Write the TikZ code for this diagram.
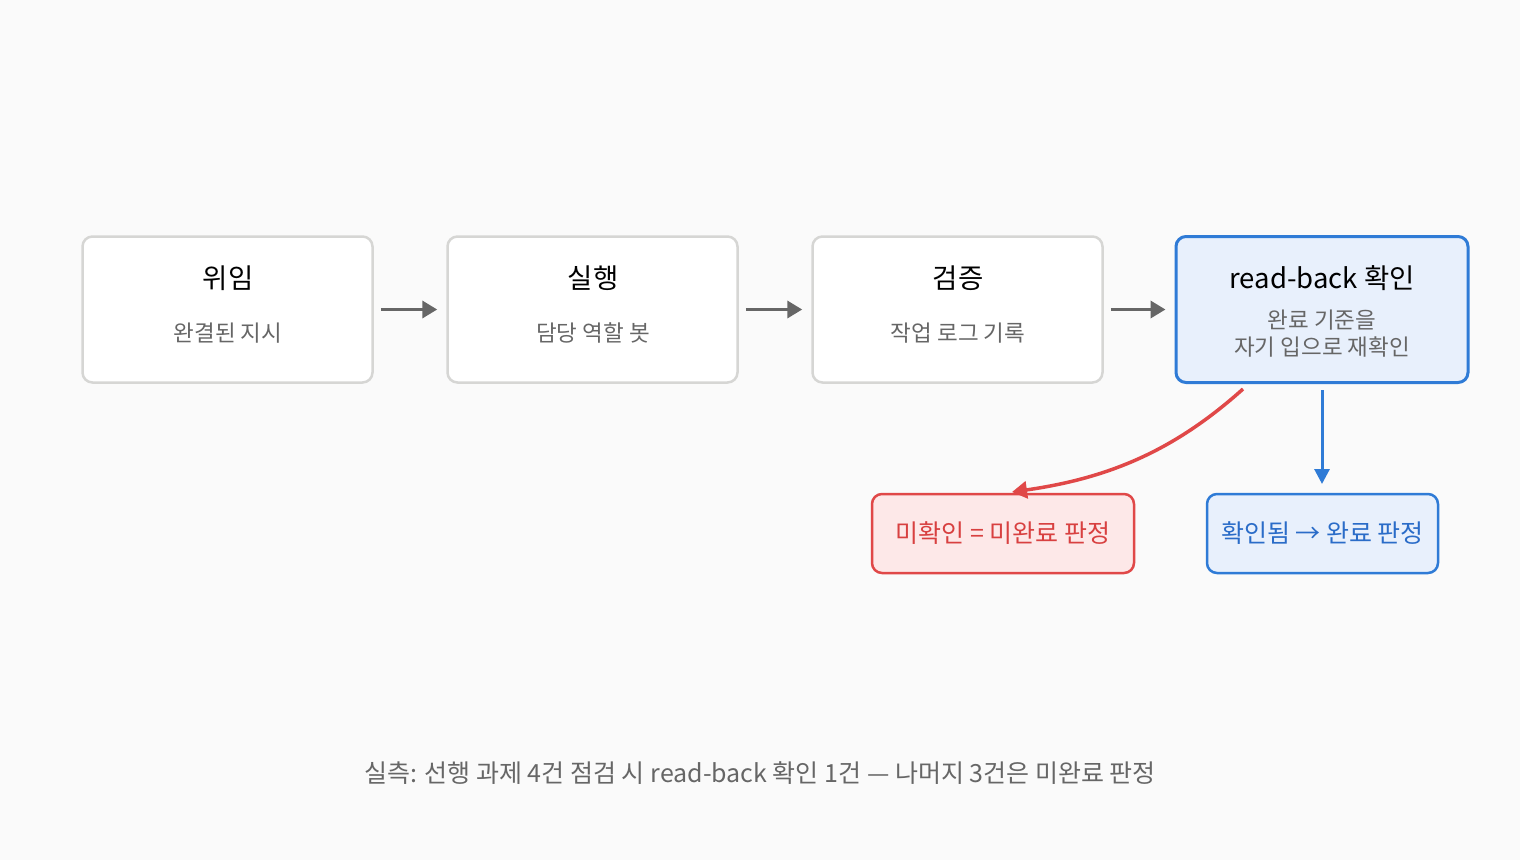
\documentclass[tikz,border=0pt]{standalone}
\usepackage{fontspec}
\setmainfont{Noto Sans CJK KR}
\usetikzlibrary{arrows.meta}
\definecolor{bg}{HTML}{FAFAFA}
\definecolor{gbord}{HTML}{D6D6D4}
\definecolor{garrow}{HTML}{666666}
\definecolor{subtxt}{HTML}{666666}
\definecolor{bbord}{HTML}{2F7BD6}
\definecolor{bfill}{HTML}{E8F0FC}
\definecolor{btxt}{HTML}{2A6CC8}
\definecolor{rbord}{HTML}{E04848}
\definecolor{rfill}{HTML}{FDE8E8}
\definecolor{rtxt}{HTML}{D84040}
\begin{document}
\begin{tikzpicture}[x=1pt,y=-1pt,
  stage/.style={draw=gbord, line width=2.5pt, fill=white, rounded corners=10pt, minimum width=290pt, minimum height=146pt},
  key/.style={draw=bbord, line width=3pt, fill=bfill, rounded corners=10pt, minimum width=292pt, minimum height=146pt},
  ttl/.style={font=\fontsize{27.5}{30}\selectfont, text=black},
  sub/.style={font=\fontsize{22.5}{27}\selectfont, text=subtxt, align=center},
  flow/.style={draw=garrow, line width=3.5pt, -{Triangle[length=15pt,width=17pt]}},
  redbox/.style={draw=rbord, line width=2.5pt, fill=rfill, rounded corners=10pt, minimum width=262pt, minimum height=79pt, text=rtxt, font=\fontsize{25}{28}\selectfont},
  bluebox/.style={draw=bbord, line width=2.5pt, fill=bfill, rounded corners=10pt, minimum width=231pt, minimum height=79pt, text=btxt, font=\fontsize{25}{28}\selectfont}
]
\fill[bg] (0,0) rectangle (1520,860);
\useasboundingbox (0,0) rectangle (1520,860);

\node[stage] (b1) at (227.5,309.5) {};
\node[stage] (b2) at (592.5,309.5) {};
\node[stage] (b3) at (957.5,309.5) {};
\node[key] (b4) at (1322,309.5) {};

\node[ttl] (t1) at (228,278) {위임};
\node[sub] (s1) at (228,333) {완결된 지시};
\node[ttl] (t2) at (593,278) {실행};
\node[sub] (s2) at (593,333) {담당 역할 봇};
\node[ttl] (t3) at (958,278) {검증};
\node[sub] (s3) at (958,333) {작업 로그 기록};
\node[ttl] (t4) at (1322,278) {read-back 확인};
\node[sub] (s4) at (1322,333.5) {완료 기준을\\자기 입으로 재확인};

\draw[flow] (b1.east) ++(7,0) -- ([xshift=-9pt]b2.west);
\draw[flow] (b2.east) ++(7,0) -- ([xshift=-9pt]b3.west);
\draw[flow] (b3.east) ++(7,0) -- ([xshift=-9pt]b4.west);

\node[redbox] (r) at (1003,533.5) {미확인 = 미완료 판정};
\node[bluebox] (g) at (1322.5,533.5) {확인됨 → 완료 판정};

\coordinate (rs) at (1243,389);
\coordinate (re) at (1012,492);
\draw[draw=rbord, line width=3.5pt, -{Triangle[length=15pt,width=17pt]}]
  (rs) .. controls (1175,450) and (1110,478) .. (re);
\coordinate (bs) at (1322,390);
\coordinate (be) at (1322,484);
\draw[draw=bbord, line width=3pt, -{Triangle[length=15pt,width=15pt]}] (bs) -- (be);

\node[font=\fontsize{25}{28}\selectfont, text=subtxt] (foot) at (760,773) {실측: 선행 과제 4건 점검 시 read-back 확인 1건 — 나머지 3건은 미완료 판정};
\end{tikzpicture}
\end{document}
